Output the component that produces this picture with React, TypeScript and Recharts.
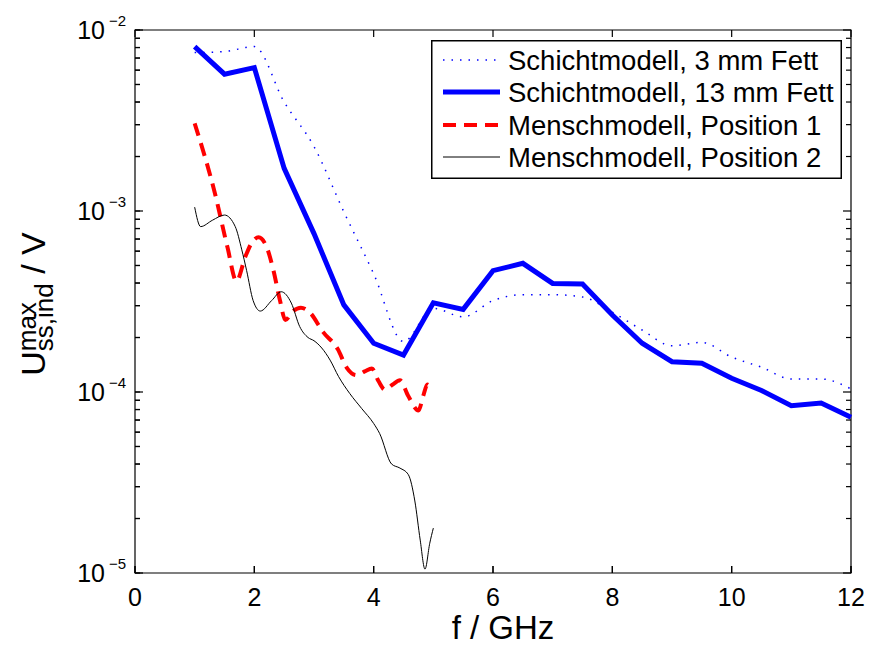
import React from 'react';
import { LineChart, Line, XAxis, YAxis, ReferenceArea } from 'recharts';

const FONT = '"Liberation Sans", Arial, Helvetica, sans-serif';

// Schichtmodell: sampled every 0.5 GHz
const freqLayer = [1, 1.5, 2, 2.5, 3, 3.5, 4, 4.5, 5, 5.5, 6, 6.5, 7, 7.5, 8, 8.5, 9, 9.5, 10, 10.5, 11, 11.5, 12];
const fett3mm = [
  7.5e-3, 7.6e-3, 8.1e-3, 4.0e-3, 2.27e-3, 9.9e-4, 4.5e-4, 1.9e-4, 2.9e-4, 2.6e-4, 3.2e-4, 3.45e-4,
  3.45e-4, 3.35e-4, 2.76e-4, 2.2e-4, 1.8e-4, 1.88e-4, 1.56e-4, 1.37e-4, 1.18e-4, 1.18e-4, 1.04e-4,
];
const fett13mm = [
  8.1e-3, 5.7e-3, 6.2e-3, 1.72e-3, 7.5e-4, 3.03e-4, 1.86e-4, 1.6e-4, 3.11e-4, 2.86e-4, 4.68e-4, 5.14e-4,
  3.98e-4, 3.95e-4, 2.66e-4, 1.86e-4, 1.47e-4, 1.44e-4, 1.19e-4, 1.02e-4, 8.4e-5, 8.7e-5, 7.25e-5,
];

// Menschmodell, Position 1
const pos1Freq = [
  1.0, 1.34, 1.55, 1.7, 1.85, 1.96, 2.07, 2.2, 2.32, 2.43, 2.52, 2.65, 2.78, 2.93, 3.15, 3.4, 3.55, 3.71,
  3.85, 3.97, 4.08, 4.19, 4.32, 4.44, 4.58, 4.75, 4.83, 4.9, 4.95,
];
const pos1Values = [
  3.05e-3, 1.25e-3, 6.3e-4, 4.1e-4, 5.6e-4, 6.7e-4, 7.15e-4, 6.4e-4, 4.7e-4, 3.2e-4, 2.5e-4, 2.8e-4,
  2.92e-4, 2.75e-4, 2.15e-4, 1.72e-4, 1.36e-4, 1.24e-4, 1.3e-4, 1.35e-4, 1.15e-4, 1.03e-4, 1.1e-4,
  1.16e-4, 9.5e-5, 7.9e-5, 9.5e-5, 1.1e-4, 1.05e-4,
];

// Menschmodell, Position 2
const pos2Freq = [
  1.0, 1.1, 1.3, 1.5, 1.68, 1.79, 1.87, 1.98, 2.1, 2.29, 2.45, 2.62, 2.76, 2.9, 3.0, 3.13, 3.27, 3.41,
  3.6, 3.8, 4.0, 4.1, 4.3, 4.44, 4.58, 4.69, 4.78, 4.86, 4.94, 5.0,
];
const pos2Values = [
  1.05e-3, 8.2e-4, 8.9e-4, 9.5e-4, 8.2e-4, 6.1e-4, 4.7e-4, 3.2e-4, 2.8e-4, 3.2e-4, 3.58e-4, 3.1e-4,
  2.3e-4, 2.0e-4, 1.92e-4, 1.75e-4, 1.5e-4, 1.22e-4, 9.8e-5, 8.1e-5, 6.7e-5, 5.9e-5, 4.0e-5, 3.8e-5,
  3.5e-5, 2.5e-5, 1.52e-5, 1.05e-5, 1.46e-5, 1.77e-5,
];

const seriesNames = [
  'Schichtmodell, 3 mm Fett',
  'Schichtmodell, 13 mm Fett',
  'Menschmodell, Position 1',
  'Menschmodell, Position 2',
];

const xTicks = [0, 2, 4, 6, 8, 10, 12];
const yDecades = [-5, -4, -3];
const yTicks: number[] = [];
yDecades.forEach((e) => {
  for (let m = 1; m <= 9; m++) yTicks.push(m * Math.pow(10, e));
});
yTicks.push(1e-2);

const toPoints = (fs: number[], vs: number[]) => fs.map((f, i) => ({ f, v: vs[i] }));
const data3mm = toPoints(freqLayer, fett3mm);
const data13mm = toPoints(freqLayer, fett13mm);
const dataPos1 = toPoints(pos1Freq, pos1Values);
const dataPos2 = toPoints(pos2Freq, pos2Values);

const styles = [
  { stroke: '#0000ff', width: 1.5, dash: '1.5 7' },
  { stroke: '#0000ff', width: 5, dash: undefined },
  { stroke: '#ff0000', width: 4, dash: '13 8' },
  { stroke: '#000000', width: 1, dash: undefined },
];

const TICK = '#000';
const TW = 1.2;

const decadeOf = (v: number) => {
  const l = Math.log10(v);
  const e = Math.round(l);
  return Math.abs(l - e) < 1e-6 ? e : null;
};

function LeftTick(props: any) {
  const { x, y, payload } = props;
  const e = decadeOf(payload.value);
  return (
    <g>
      <line x1={x} x2={x + (e !== null ? 8 : 5)} y1={y} y2={y} stroke={TICK} strokeWidth={TW} />
      {e !== null && (
        <>
          <text x={x - 30} y={y + 9} textAnchor="end" fontSize={25} fontFamily={FONT} fill="#000">
            10
          </text>
          <text x={x - 26} y={y - 4} fontSize={15} fontFamily={FONT} fill="#000">
            {'\u2212' + String(-e)}
          </text>
        </>
      )}
    </g>
  );
}

function RightTick(props: any) {
  const { x, y, payload } = props;
  const e = decadeOf(payload.value);
  return <line x1={x} x2={x - (e !== null ? 8 : 5)} y1={y} y2={y} stroke={TICK} strokeWidth={TW} />;
}

function BottomTick(props: any) {
  const { x, y, payload } = props;
  return (
    <g>
      <line x1={x} x2={x} y1={y} y2={y - 7} stroke={TICK} strokeWidth={TW} />
      <text x={x} y={y + 33} textAnchor="middle" fontSize={25} fontFamily={FONT} fill="#000">
        {payload.value}
      </text>
    </g>
  );
}

function TopTick(props: any) {
  const { x, y } = props;
  return <line x1={x} x2={x} y1={y} y2={y + 7} stroke={TICK} strokeWidth={TW} />;
}

// axis titles, drawn over the chart
function Titles() {
  const cx = 45;
  const cy = 304;
  return (
    <svg
      width={870}
      height={646}
      style={{ position: 'absolute', left: 0, top: 0, pointerEvents: 'none' }}
    >
      <text x={503} y={639} textAnchor="middle" fontSize={33} fontFamily={FONT} fill="#000">
        f / GHz
      </text>
      <text
        x={cx}
        y={cy}
        transform={`rotate(-90, ${cx}, ${cy})`}
        textAnchor="middle"
        fontSize={34}
        fontFamily={FONT}
        fill="#000"
        style={{ whiteSpace: 'pre' }}
      >
        U
        <tspan fontSize={26} dy={-9}>
          max
        </tspan>
        <tspan fontSize={26} dx={-49} dy={17}>
          ss,ind
        </tspan>
        <tspan dy={-8}>{' / V'}</tspan>
      </text>
    </svg>
  );
}

function LegendBox() {
  const rows = [20, 52, 85, 117];
  return (
    <svg
      width={411}
      height={139}
      style={{ position: 'absolute', left: 431, top: 40, display: 'block' }}
    >
      <rect x={0.75} y={0.75} width={409.5} height={137.5} fill="#fff" stroke="#000" strokeWidth={1.5} />
      {seriesNames.map((name, i) => (
        <g key={name}>
          <line
            x1={12}
            x2={69}
            y1={rows[i]}
            y2={rows[i]}
            stroke={styles[i].stroke}
            strokeWidth={styles[i].width}
            strokeDasharray={styles[i].dash}
          />
          <text x={77} y={rows[i] + 10} fontSize={27.5} fontFamily={FONT} fill="#000">
            {name}
          </text>
        </g>
      ))}
    </svg>
  );
}

export default function App() {
  const series = [data3mm, data13mm, dataPos1, dataPos2];
  return (
    <div style={{ position: 'absolute', left: 0, top: 0, width: 870, height: 646, background: '#fff' }}>
      <LineChart width={870} height={646} margin={{ top: 29, right: 18, bottom: 43, left: 75 }}>
        <XAxis
          dataKey="f"
          type="number"
          domain={[0, 12]}
          ticks={xTicks}
          interval={0}
          height={30}
          tickLine={{ stroke: '#000', strokeWidth: 1.2 }}
          tickSize={-7}
          tickMargin={7}
          tick={<BottomTick />}
          axisLine={false}
        />
        <XAxis
          xAxisId="top"
          orientation="top"
          dataKey="f"
          type="number"
          domain={[0, 12]}
          ticks={xTicks}
          interval={0}
          height={1}
          tickLine={false}
          tickSize={0}
          tickMargin={0}
          tick={<TopTick />}
          axisLine={false}
        />
        <YAxis
          type="number"
          scale="log"
          domain={[1e-5, 1e-2]}
          ticks={yTicks}
          interval={0}
          allowDataOverflow
          width={60}
          tickLine={{ stroke: '#000', strokeWidth: 1.2 }}
          tickSize={-5}
          tickMargin={5}
          tick={<LeftTick />}
          axisLine={false}
        />
        <YAxis
          yAxisId="right"
          orientation="right"
          type="number"
          scale="log"
          domain={[1e-5, 1e-2]}
          ticks={yTicks}
          interval={0}
          allowDataOverflow
          width={1}
          tickLine={false}
          tickSize={0}
          tickMargin={0}
          tick={<RightTick />}
          axisLine={false}
        />
        {/* invisible copy so the box axes (top/right) get a series */}
        <Line
          data={data13mm}
          dataKey="v"
          xAxisId="top"
          yAxisId="right"
          stroke="none"
          dot={false}
          activeDot={false}
          legendType="none"
          isAnimationActive={false}
        />
        <ReferenceArea
          x1={0}
          x2={12}
          y1={1e-5}
          y2={1e-2}
          fill="none"
          stroke="#000"
          strokeWidth={1.2}
          ifOverflow="visible"
        />
        {series.map((d, i) => (
          <Line
            key={seriesNames[i]}
            data={d}
            dataKey="v"
            name={seriesNames[i]}
            type={i === 1 ? 'linear' : 'monotone'}
            stroke={styles[i].stroke}
            strokeWidth={styles[i].width}
            strokeDasharray={styles[i].dash}
            dot={false}
            activeDot={false}
            isAnimationActive={false}
          />
        ))}
      </LineChart>
      <Titles />
      <LegendBox />
    </div>
  );
}
